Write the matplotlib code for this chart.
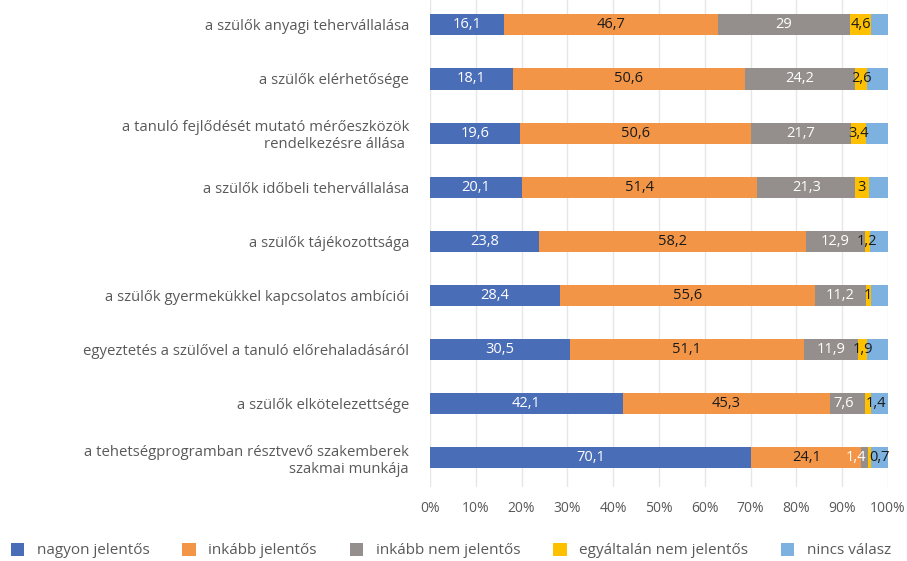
import matplotlib
matplotlib.use("Agg")
import matplotlib.pyplot as plt
from matplotlib.patches import Patch

plt.rcParams['font.family'] = ['Open Sans', 'DejaVu Sans']

categories = [
    "a szülők anyagi tehervállalása",
    "a szülők elérhetősége",
    "a tanuló fejlődését mutató mérőeszközök\nrendelkezésre állása ",
    "a szülők időbeli tehervállalása",
    "a szülők tájékozottsága",
    "a szülők gyermekükkel kapcsolatos ambíciói",
    "egyeztetés a szülővel a tanuló előrehaladásáról",
    "a szülők elkötelezettsége",
    "a tehetségprogramban résztvevő szakemberek\nszakmai munkája",
]
nagyon = [16.1, 18.1, 19.6, 20.1, 23.8, 28.4, 30.5, 42.1, 70.1]
inkabb = [46.7, 50.6, 50.6, 51.4, 58.2, 55.6, 51.1, 45.3, 24.1]
inkabb_nem = [29, 24.2, 21.7, 21.3, 12.9, 11.2, 11.9, 7.6, 1.4]
egyaltalan_nem = [4.6, 2.6, 3.4, 3, 1.2, 1, 1.9, 1.4, 0.7]
nincs_valasz = [100 - a - b - c - d for a, b, c, d in
                zip(nagyon, inkabb, inkabb_nem, egyaltalan_nem)]

series_names = ["nagyon jelentős", "inkább jelentős", "inkább nem jelentős",
                "egyáltalán nem jelentős", "nincs válasz"]
series = [nagyon, inkabb, inkabb_nem, egyaltalan_nem, nincs_valasz]
colors = ["#4A6DB8", "#F39547", "#948F8C", "#FFC000", "#7DB1E0"]
label_colors = ["white", "#1a1a1a", "white", "#1a1a1a", None]
x_ticks = [0, 10, 20, 30, 40, 50, 60, 70, 80, 90, 100]

# small horizontal nudges (in % units) for crowded labels: (series, row) -> dx
label_nudge = {(2, 7): -0.8, (3, 7): 1.6, (2, 8): -1.9, (3, 8): 2.2}

fig = plt.figure(figsize=(9.07, 5.61), dpi=100)
ax = fig.add_axes([0.474, 0.132, 0.505, 0.868])

y = list(range(len(categories)))
left = [0.0] * len(categories)
for si, (vals, col, lc) in enumerate(zip(series, colors, label_colors)):
    ax.barh(y, vals, left=left, height=0.39, color=col, zorder=3)
    if lc is not None:
        for yi, (l, v) in enumerate(zip(left, vals)):
            txt = f"{v:g}".replace(".", ",")
            dx = label_nudge.get((si, yi), 0.0)
            ax.text(l + v / 2 + dx, yi, txt, ha="center", va="center",
                    color=lc, fontsize=10.5, zorder=4)
    left = [l + v for l, v in zip(left, vals)]

ax.set_xlim(0, 100)
ax.set_ylim(8.54, -0.46)
ax.set_xticks(x_ticks)
ax.set_xticklabels([f"{t}%" for t in x_ticks], color="#595959", fontsize=10)
ax.set_yticks(y)
ax.set_yticklabels(categories, color="#595959", fontsize=10.7,
                   multialignment="right")
ax.tick_params(axis="both", length=0)
ax.tick_params(axis="y", pad=15)
ax.tick_params(axis="x", pad=10)
ax.grid(axis="x", color="#E6E6E6", linewidth=1, zorder=0)
for s in ax.spines.values():
    s.set_visible(False)

handles = [Patch(facecolor=c, label=n) for c, n in zip(colors, series_names)]
fig.legend(handles=handles, loc="lower center", bbox_to_anchor=(0.497, -0.02),
           ncol=5, frameon=False, fontsize=11, labelcolor="#595959",
           handlelength=0.9, handleheight=0.9, handletextpad=0.8,
           columnspacing=2.15)

fig.savefig("out.png", dpi=100)
